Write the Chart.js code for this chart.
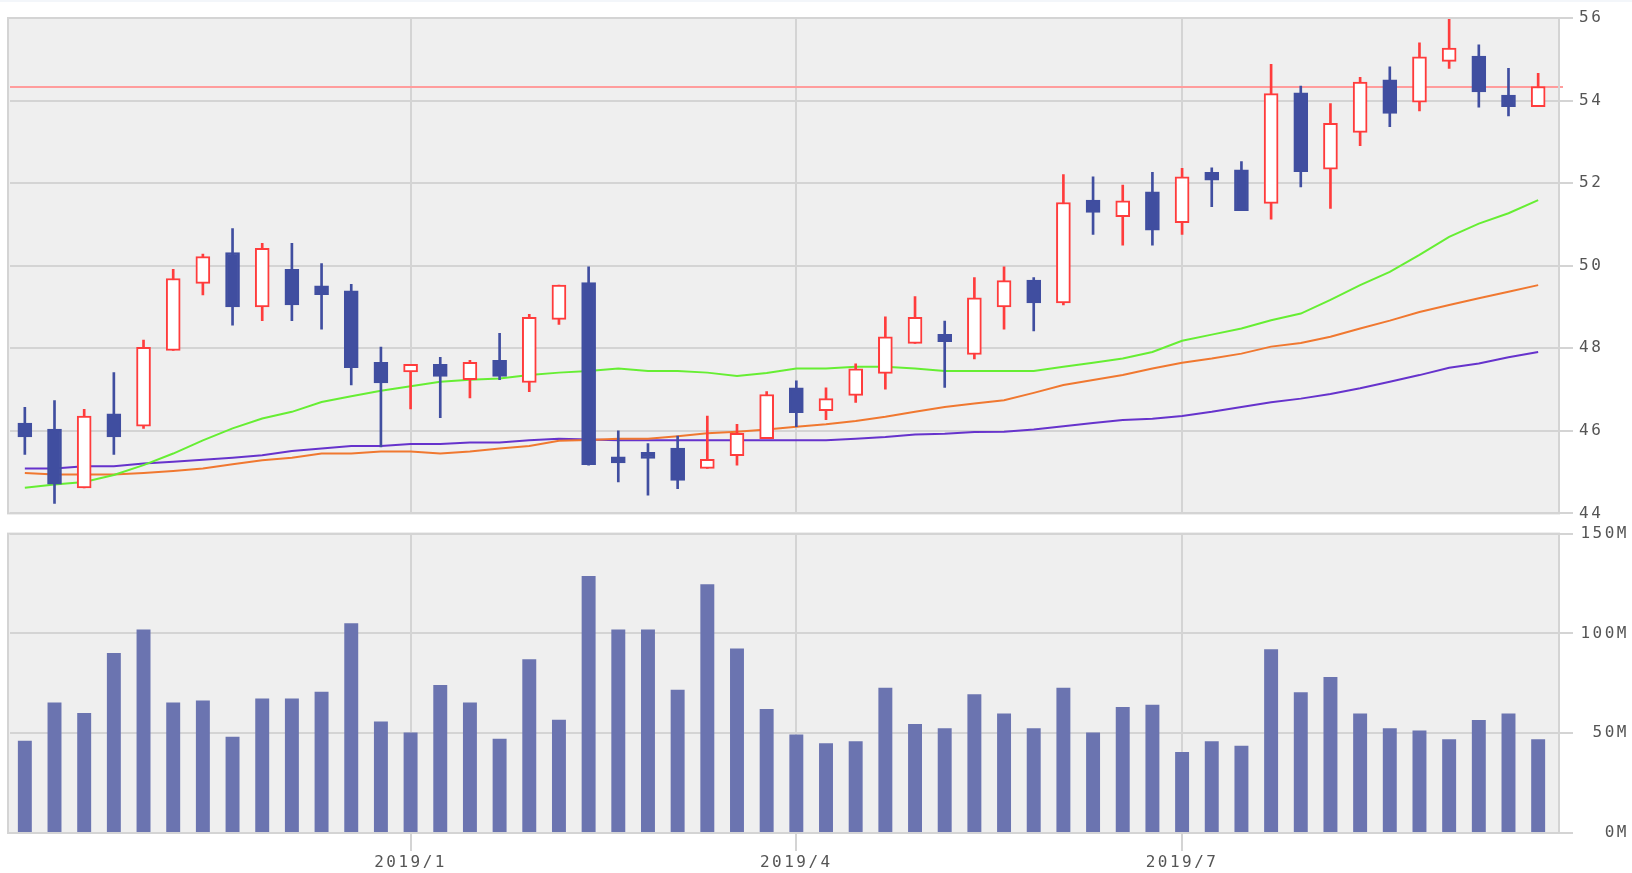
<!DOCTYPE html>
<html lang="ja">
<head>
<meta charset="UTF-8">
<title>週足チャート</title>
<script src="https://cdn.jsdelivr.net/npm/chart.js"></script>
<style>
    body {
        margin: 0;
        background: #ffffff;
    }
    .wrap {
        position: relative;
        width: 1632px;
        height: 873px;
    }
    .strip {
        position: absolute;
        left: 0;
        top: 0;
        width: 1632px;
        height: 2px;
        background: #f3f6fa;
    }
    #priceChart {
        position: absolute;
        left: 0;
        top: 0;
    }
    #volumeChart {
        position: absolute;
        left: 0;
        top: 517px;
    }
</style>
</head>
<body>
<div class="wrap">
    <div class="strip"></div>
    <canvas id="priceChart" width="1632" height="529"></canvas>
    <canvas id="volumeChart" width="1632" height="356"></canvas>
</div>
<script>
// weekly bars (Fridays)
const weeks = [
    '2018/10/5', '2018/10/12', '2018/10/19', '2018/10/26', '2018/11/2', '2018/11/9', '2018/11/16',
    '2018/11/22', '2018/11/30', '2018/12/7', '2018/12/14', '2018/12/21', '2018/12/28',
    '2019/1/4', '2019/1/11', '2019/1/18', '2019/1/25', '2019/2/1', '2019/2/8', '2019/2/15',
    '2019/2/22', '2019/3/1', '2019/3/8', '2019/3/15', '2019/3/22', '2019/3/29',
    '2019/4/5', '2019/4/12', '2019/4/19', '2019/4/26', '2019/5/3', '2019/5/10', '2019/5/17',
    '2019/5/24', '2019/5/31', '2019/6/7', '2019/6/14', '2019/6/21', '2019/6/28',
    '2019/7/5', '2019/7/12', '2019/7/19', '2019/7/26', '2019/8/2', '2019/8/9', '2019/8/16',
    '2019/8/23', '2019/8/30', '2019/9/6', '2019/9/13', '2019/9/20', '2019/9/27'
];
const tickMonths = ['2019/1', '2019/4', '2019/7'];

const opens = [46.19, 46.04, 44.62, 46.41, 46.11, 47.95, 49.57, 50.32, 49.00, 49.91, 49.51, 49.39, 47.66,
    47.43, 47.61, 47.24, 47.71, 47.17, 48.70, 49.59, 45.37, 45.48, 45.58, 45.09, 45.40, 45.81,
    47.04, 46.49, 46.86, 47.39, 48.12, 48.34, 47.85, 49.00, 49.65, 49.10, 51.59, 51.19, 51.79,
    51.04, 52.26, 52.32, 51.51, 54.19, 52.34, 53.23, 54.50, 53.96, 54.95, 55.08, 54.13, 53.85];
const highs = [46.57, 46.73, 46.52, 47.41, 48.20, 49.91, 50.28, 50.90, 50.54, 50.54, 50.05, 49.55, 48.03,
    47.61, 47.78, 47.71, 48.36, 48.82, 49.53, 49.97, 46.00, 45.69, 45.87, 46.36, 46.16, 46.95,
    47.21, 47.04, 47.62, 48.76, 49.25, 48.66, 49.71, 49.97, 49.71, 52.21, 52.15, 51.95, 52.26,
    52.36, 52.37, 52.52, 54.88, 54.35, 53.93, 54.56, 54.82, 55.40, 55.97, 55.35, 54.78, 54.66];
const lows = [45.43, 44.24, 44.62, 45.43, 46.06, 47.95, 49.29, 48.56, 48.67, 48.67, 48.46, 47.11, 45.61,
    46.53, 46.32, 46.80, 47.24, 46.95, 48.58, 45.17, 44.76, 44.44, 44.60, 45.09, 45.17, 45.81,
    46.10, 46.27, 46.69, 47.01, 48.12, 47.05, 47.74, 48.46, 48.42, 49.05, 50.76, 50.50, 50.50,
    50.76, 51.43, 51.33, 51.13, 51.91, 51.39, 52.91, 53.37, 53.75, 54.78, 53.84, 53.63, 53.85];
const closes = [45.85, 44.71, 46.36, 45.85, 48.02, 49.69, 50.22, 49.00, 50.42, 49.05, 49.30, 47.53, 47.16,
    47.61, 47.32, 47.66, 47.32, 48.75, 49.53, 45.18, 45.22, 45.33, 44.80, 45.31, 45.94, 46.88,
    46.44, 46.78, 47.50, 48.28, 48.75, 48.16, 49.22, 49.64, 49.10, 51.53, 51.29, 51.57, 50.86,
    52.15, 52.07, 51.33, 54.17, 52.28, 53.45, 54.45, 53.69, 55.06, 55.27, 54.21, 53.85, 54.34];

// moving averages (13 / 26 / 52 weeks)
const ma13 = [44.62, 44.70, 44.76, 44.93, 45.17, 45.45, 45.77, 46.06, 46.30, 46.46, 46.70, 46.84, 46.97,
    47.08, 47.19, 47.24, 47.27, 47.35, 47.41, 47.45, 47.51, 47.45, 47.45, 47.41, 47.33, 47.40,
    47.51, 47.51, 47.55, 47.55, 47.51, 47.45, 47.45, 47.45, 47.45, 47.55, 47.65, 47.75, 47.91,
    48.18, 48.33, 48.48, 48.68, 48.84, 49.17, 49.53, 49.85, 50.26, 50.70, 51.02, 51.27, 51.59];
const ma26 = [44.98, 44.94, 44.94, 44.94, 44.98, 45.03, 45.09, 45.19, 45.29, 45.35, 45.45, 45.45, 45.50,
    45.50, 45.45, 45.50, 45.57, 45.63, 45.76, 45.78, 45.81, 45.81, 45.87, 45.94, 45.98, 46.03,
    46.10, 46.16, 46.24, 46.34, 46.46, 46.58, 46.66, 46.74, 46.92, 47.11, 47.23, 47.35, 47.51,
    47.65, 47.75, 47.87, 48.04, 48.13, 48.28, 48.48, 48.67, 48.88, 49.05, 49.21, 49.37, 49.53];
const ma52 = [45.09, 45.09, 45.14, 45.14, 45.21, 45.25, 45.30, 45.35, 45.41, 45.51, 45.57, 45.63, 45.63,
    45.68, 45.68, 45.72, 45.72, 45.77, 45.81, 45.79, 45.77, 45.77, 45.77, 45.77, 45.77, 45.77,
    45.77, 45.77, 45.81, 45.85, 45.91, 45.93, 45.97, 45.98, 46.03, 46.11, 46.19, 46.26, 46.29,
    46.36, 46.46, 46.58, 46.69, 46.78, 46.89, 47.03, 47.19, 47.35, 47.53, 47.63, 47.78, 47.91];

const refLevel = 54.33;

// volume in millions
const volumes = [46.2, 65.4, 60.1, 90.2, 102.0, 65.4, 66.4, 48.2, 67.4, 67.4, 70.8, 105.1, 55.8,
    50.3, 74.1, 65.4, 47.2, 87.0, 56.8, 128.7, 102.0, 102.0, 71.8, 124.6, 92.4, 62.1,
    49.3, 45.0, 46.0, 72.8, 54.6, 52.5, 69.5, 59.9, 52.5, 72.8, 50.3, 63.1, 64.2,
    40.6, 46.0, 43.7, 92.1, 70.5, 78.1, 59.9, 52.5, 51.3, 47.0, 56.6, 59.9, 47.0];

const upColor = '#ff3c3c';
const downColor = '#404ea0';
const gridColor = '#d4d4d4';
const textColor = '#555555';
const tickFont = { family: 'DejaVu Sans Mono', size: 16 };

function quarterLabel(i) {
    const parts = weeks[i].split('/');
    const label = parts[0] + '/' + parts[1];
    const prevMonth = i > 0 ? weeks[i - 1].split('/')[1] : null;
    return (parts[1] !== prevMonth && tickMonths.includes(label)) ? label : '';
}

const vGrid = ctx => quarterLabel(ctx.index) ? gridColor : 'rgba(0,0,0,0)';

const isUp = opens.map((o, i) => closes[i] >= o);
const candleColors = isUp.map(u => u ? upColor : downColor);
const bodyFill = isUp.map(u => u ? '#ffffff' : downColor);
const wicks = lows.map((l, i) => [l, highs[i]]);
const bodies = opens.map((o, i) => [o, closes[i]]);

// plot background, frame and the wide pixel-font spacing
const framePlugin = {
    id: 'frame',
    beforeLayout(chart) {
        chart.ctx.letterSpacing = '2.5px';
    },
    beforeDraw(chart) {
        const { ctx, chartArea: a } = chart;
        ctx.letterSpacing = '2.5px';
        ctx.save();
        ctx.fillStyle = '#efefef';
        ctx.fillRect(a.left - 2, a.top, a.right - a.left + 8, a.bottom - a.top);
        ctx.restore();
    },
    afterDraw(chart) {
        const { ctx, chartArea: a } = chart;
        ctx.save();
        ctx.strokeStyle = gridColor;
        ctx.lineWidth = 2;
        ctx.strokeRect(a.left - 2, a.top, a.right - a.left + 8, a.bottom - a.top);
        ctx.restore();
    }
};

const refLinePlugin = {
    id: 'refLine',
    beforeDatasetsDraw(chart) {
        const { ctx, chartArea: a } = chart;
        const y = Math.round(chart.scales.y.getPixelForValue(refLevel));
        ctx.save();
        ctx.strokeStyle = '#ff9c9c';
        ctx.lineWidth = 2;
        ctx.beginPath();
        ctx.moveTo(a.left, y);
        ctx.lineTo(a.right + 10, y);
        ctx.stroke();
        ctx.restore();
    }
};

function maLine(data, color) {
    return {
        type: 'line',
        data: data,
        borderColor: color,
        borderWidth: 2,
        pointRadius: 0,
        tension: 0,
        order: 3
    };
}

new Chart(document.getElementById('priceChart'), {
    type: 'bar',
    data: {
        labels: weeks,
        datasets: [
            maLine(ma13, '#66ee33'),
            maLine(ma26, '#f07830'),
            maLine(ma52, '#6633cc'),
            {
                data: wicks,
                backgroundColor: candleColors,
                barThickness: 2,
                grouped: false,
                order: 2
            },
            {
                data: bodies,
                backgroundColor: bodyFill,
                borderColor: candleColors,
                borderWidth: 2,
                borderSkipped: false,
                barThickness: 14,
                grouped: false,
                order: 1
            }
        ]
    },
    options: {
        responsive: false,
        animation: false,
        layout: { padding: { left: 10, right: 3, top: 18, bottom: 0 } },
        plugins: {
            legend: { display: false },
            tooltip: { enabled: false }
        },
        scales: {
            x: {
                offset: true,
                afterFit(s) { s.height = 12; },
                ticks: { display: false, autoSkip: false },
                grid: { offset: false, drawTicks: false, color: vGrid, lineWidth: 2 },
                border: { display: false }
            },
            y: {
                position: 'right',
                min: 44,
                max: 56,
                afterFit(s) { s.width = 76; },
                ticks: { stepSize: 2, color: textColor, font: tickFont, padding: 6, crossAlign: 'near' },
                grid: { color: gridColor, lineWidth: 2, tickLength: 20 },
                border: { display: false }
            }
        }
    },
    plugins: [framePlugin, refLinePlugin]
});

new Chart(document.getElementById('volumeChart'), {
    type: 'bar',
    data: {
        labels: weeks,
        datasets: [{
            data: volumes,
            backgroundColor: '#6b74b0',
            barPercentage: 0.47,
            categoryPercentage: 1
        }]
    },
    options: {
        responsive: false,
        animation: false,
        layout: { padding: { left: 10, right: 3, top: 0, bottom: 0 } },
        plugins: {
            legend: { display: false },
            tooltip: { enabled: false }
        },
        scales: {
            x: {
                offset: true,
                afterFit(s) { s.height = 40; },
                ticks: {
                    autoSkip: false,
                    maxRotation: 0,
                    padding: 2,
                    color: textColor,
                    font: tickFont,
                    callback: (v, i) => quarterLabel(i)
                },
                grid: { offset: false, color: vGrid, lineWidth: 2, tickLength: 18 },
                border: { display: false }
            },
            y: {
                position: 'right',
                min: 0,
                max: 150,
                afterFit(s) { s.width = 76; },
                ticks: {
                    stepSize: 50,
                    color: textColor,
                    font: tickFont,
                    padding: 7,
                    crossAlign: 'far',
                    callback: v => v + 'M'
                },
                grid: { color: gridColor, lineWidth: 2, tickLength: 20 },
                border: { display: false }
            }
        }
    },
    plugins: [framePlugin]
});
</script>
</body>
</html>
